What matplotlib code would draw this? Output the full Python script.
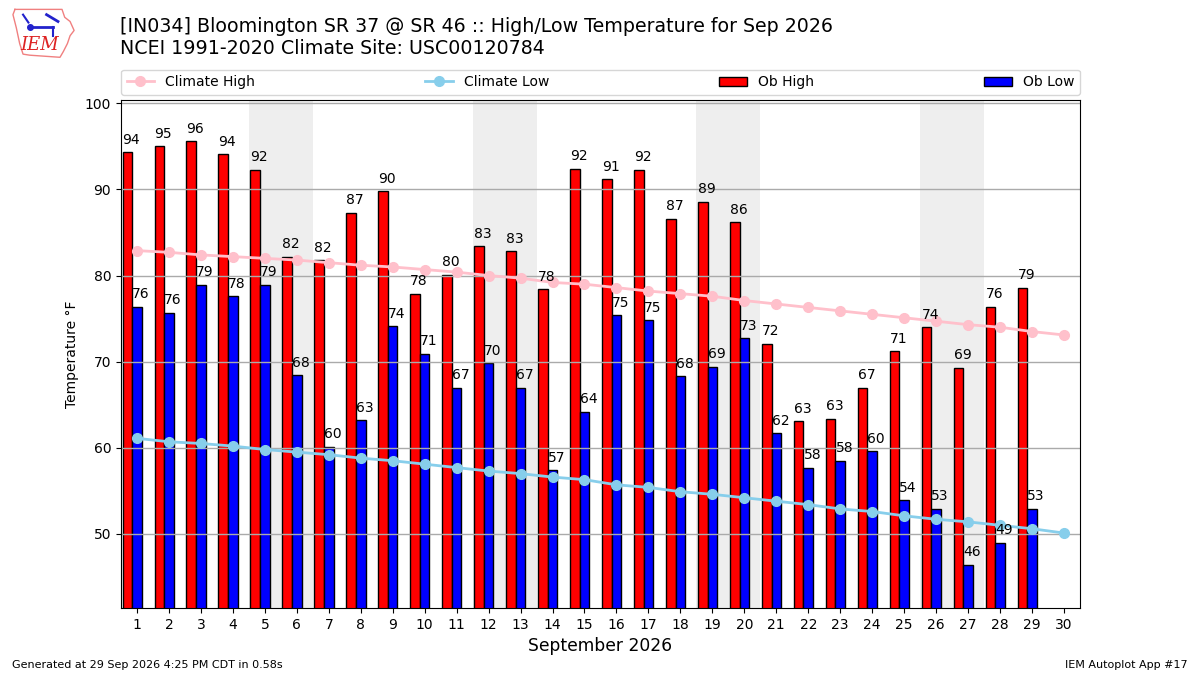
import matplotlib
matplotlib.use("Agg")
import matplotlib.pyplot as plt
import numpy as np

days = list(range(1, 31))
ob_high = [94.3, 95.0, 95.6, 94.1, 92.3, 82.2, 81.8, 87.3, 89.8, 77.9,
           80.1, 83.4, 82.8, 78.4, 92.4, 91.2, 92.3, 86.6, 88.6, 86.2,
           72.1, 63.1, 63.4, 67.0, 71.2, 74.0, 69.3, 76.4, 78.6]
ob_low = [76.4, 75.7, 78.9, 77.6, 78.9, 68.4, 60.1, 63.2, 74.1, 70.9,
          67.0, 69.8, 67.0, 57.4, 64.2, 75.4, 74.8, 68.3, 69.4, 72.7,
          61.7, 57.7, 58.5, 59.6, 53.9, 52.9, 46.4, 49.0, 52.9]
clim_high = [82.9, 82.7, 82.4, 82.2, 82.0, 81.8, 81.5, 81.2, 81.0, 80.7,
             80.4, 80.0, 79.7, 79.2, 79.0, 78.6, 78.2, 77.9, 77.6, 77.1,
             76.7, 76.3, 75.9, 75.5, 75.1, 74.7, 74.3, 74.0, 73.5, 73.1]
clim_low = [61.1, 60.7, 60.5, 60.2, 59.8, 59.5, 59.2, 58.8, 58.5, 58.1,
            57.7, 57.3, 57.0, 56.6, 56.3, 55.7, 55.4, 54.9, 54.6, 54.2,
            53.8, 53.4, 52.9, 52.6, 52.1, 51.7, 51.4, 51.0, 50.6, 50.1]
weekends = [5, 12, 19, 26]

fig = plt.figure(figsize=(12, 6.75), dpi=100)
ax = fig.add_axes([0.1008, 0.0993, 0.7992, 0.7527])

for d in weekends:
    ax.axvspan(d - 0.5, d + 1.5, color='#EEEEEE', zorder=0, lw=0)

obs_days = np.array(days[:len(ob_high)])
hb = ax.bar(obs_days - 0.3, ob_high, width=0.3, color='r', edgecolor='k',
            zorder=1)
lb = ax.bar(obs_days, ob_low, width=0.3, color='b', edgecolor='k',
            zorder=1)
for rect, v in zip(list(hb) + list(lb), ob_high + ob_low):
    ax.annotate("%.0f" % v, (rect.get_x(), v), xytext=(0, 4),
                textcoords='offset points', ha='left', va='bottom',
                fontsize=10, zorder=5)

l1, = ax.plot(days, clim_high, color='pink', marker='o', ms=7, lw=2, zorder=3)
l2, = ax.plot(days, clim_low, color='skyblue', marker='o', ms=7, lw=2, zorder=3)

ax.set_xlim(0.5, 30.5)
ax.set_ylim(41.4, 100.4)
ax.set_xticks(days)
ax.set_yticks([50, 60, 70, 80, 90, 100])
ax.tick_params(labelsize=10)
ax.grid(True, axis='y', color='#AAAAAA', lw=1)
ax.set_axisbelow('line')
ax.set_ylabel("Temperature \u00b0F", fontsize=10)
ax.set_xlabel("September 2026", fontsize=12.3)

ax.legend([l1, l2, hb, lb], ['Climate High', 'Climate Low', 'Ob High', 'Ob Low'],
          loc='lower left', bbox_to_anchor=(0, 1.01, 1, 0.05), ncol=4,
          mode='expand', borderaxespad=0, fontsize=10)

fig.text(0.1, 0.975, "[IN034] Bloomington SR 37 @ SR 46 :: High/Low Temperature for Sep 2026\n"
         "NCEI 1991-2020 Climate Site: USC00120784", fontsize=13.7, va='top', ha='left')

# rough IEM logo
lax = fig.add_axes([0.008, 0.912, 0.056, 0.078])
lax.set_xlim(0, 1)
lax.set_ylim(0, 1)
lax.axis('off')
outline = [(0.08, 0.95), (0.78, 0.95), (0.82, 0.8), (0.9, 0.72), (0.96, 0.55),
           (0.9, 0.45), (0.86, 0.3), (0.8, 0.15), (0.75, 0.04), (0.3, 0.08),
           (0.2, 0.1), (0.15, 0.3), (0.1, 0.6), (0.05, 0.85), (0.08, 0.95)]
lax.plot([p[0] for p in outline], [p[1] for p in outline], color='#F08080', lw=1)
lax.plot([0.3, 0.65], [0.62, 0.62], color='#2222CC', lw=2)
lax.plot([0.3], [0.62], 'o', color='#2222CC', ms=4)
lax.plot([0.2, 0.28], [0.85, 0.7], color='#2222CC', lw=1.5)
lax.plot([0.55, 0.72], [0.85, 0.72], color='#2222CC', lw=2)
lax.plot([0.65, 0.65], [0.62, 0.45], color='#2222CC', lw=1.5)
lax.text(0.45, 0.28, "IEM", color='#DD2222', fontsize=13, family='DejaVu Serif',
         style='italic', ha='center', va='center')

fig.text(0.01, 0.01, "Generated at 29 Sep 2026 4:25 PM CDT in 0.58s", fontsize=8)
fig.text(0.99, 0.01, "IEM Autoplot App #17", fontsize=8, ha='right')

fig.savefig("out.png", dpi=100)
